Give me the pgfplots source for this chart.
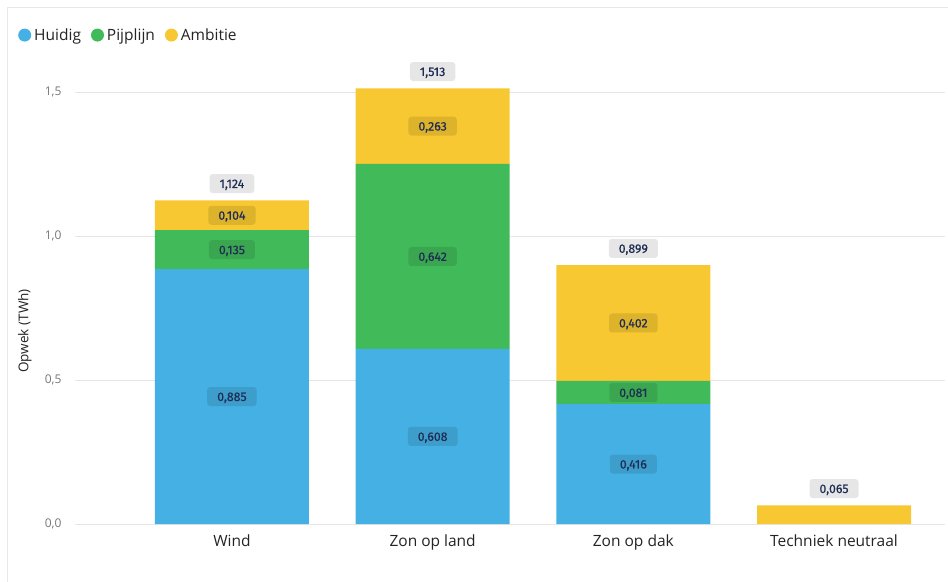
\documentclass[border=0pt]{standalone}
\usepackage{pgfplots}
\pgfplotsset{compat=1.18}
\usepackage{fontspec}
\setmainfont{Open Sans}
\newfontfamily\labelfont{Fira Sans}[FakeBold=0.6]

\definecolor{huidig}{HTML}{45B0E3}
\definecolor{pijplijn}{HTML}{41BA5A}
\definecolor{ambitie}{HTML}{F7C832}
\definecolor{labeltext}{HTML}{1F2D55}
\definecolor{gridgrey}{HTML}{E6E6E6}
\definecolor{tickgrey}{HTML}{777777}
\definecolor{textdark}{HTML}{252423}

\tikzset{
  labelbox/.style={
    text=labeltext, font=\labelfont\fontsize{12.3bp}{13bp}\selectfont,
    inner xsep=10bp, inner ysep=0pt, minimum height=19bp,
    text height=8.8bp, text depth=0pt, rounded corners=3bp},
}
% stacked labels sit in the middle of their segment; too thin ones are hidden
\pgfplotsset{
  seglabel/.style={
    point meta=explicit,
    nodes near coords={\pgfmathprintnumber[fixed,fixed zerofill,precision=3,use comma]{\pgfplotspointmeta}},
    every node near coord/.style={
      /utils/exec={%
        \pgfkeys{/pgf/fpu=true,/pgf/fpu/output format=fixed}%
        \pgfmathsetmacro\segop{\pgfplotspointmeta>0.07 ? 1 : 0}%
        \pgfmathsetmacro\segfop{\pgfplotspointmeta>0.07 ? 0.1 : 0}%
        \pgfkeys{/pgf/fpu=false}},
      anchor=center,
      fill=black, fill opacity=\segfop, text opacity=\segop, labelbox},
  },
  commonaxis/.style={
    at={(0,0)}, anchor=south west,
    scale only axis, width=870bp, height=460.8bp,
    xmin=-0.782, xmax=3.553, ymin=0, ymax=1.6, clip=false,
    /pgf/number format/assume math mode=true,
  },
}

\begin{document}
\begin{tikzpicture}
\path[use as bounding box] (-75bp,-58bp) rectangle (873bp,524bp);
\draw[gray!18, line width=0.8bp] (-68bp,-58bp) -- (-68bp,517bp) -- (873bp,517bp);
\begin{axis}[
    commonaxis,
    ybar stacked, bar width=154bp,
    xtick={0,1,2,3},
    xticklabels={Wind,Zon op land,Zon op dak,Techniek neutraal},
    ytick={0,0.5,1,1.5},
    yticklabel={\pgfmathprintnumber[fixed,fixed zerofill,precision=1,use comma]{\tick}},
    ymajorgrids, grid style={gridgrey, line width=0.8bp},
    axis line style={draw=none}, tick style={draw=none},
    xticklabel style={font=\fontsize{15.5bp}{18bp}\selectfont, text=textdark, yshift=-7bp},
    yticklabel style={font=\fontsize{12bp}{14bp}\selectfont, text=tickgrey, xshift=-10bp},
    ylabel={Opwek (TWh)},
    ylabel style={at={(axis description cs:-0.0575,0.419)}, anchor=center,
      font=\fontsize{13.5bp}{16bp}\selectfont, text=textdark},
    legend columns=3,
    legend image code/.code={\fill[#1] (0bp,0bp) circle (6.5bp);},
    legend style={at={(axis description cs:-0.0655,1.061)}, anchor=west,
      draw=none, fill=none, inner xsep=0pt,
      font=\fontsize{15.5bp}{18bp}\selectfont, text=textdark,
      nodes={inner xsep=3bp},
      /tikz/every even column/.append style={column sep=7bp}},
]
\addplot[fill=huidig, draw=none, seglabel] coordinates
  {(0,0.885) [0.885] (1,0.608) [0.608] (2,0.416) [0.416] (3,0) [0]};
\addplot[fill=pijplijn, draw=none, seglabel] coordinates
  {(0,0.135) [0.135] (1,0.642) [0.642] (2,0.081) [0.081] (3,0) [0]};
\addplot[fill=ambitie, draw=none, seglabel] coordinates
  {(0,0.104) [0.104] (1,0.263) [0.263] (2,0.402) [0.402] (3,0.065) [0.065]};
\legend{Huidig,Pijplijn,Ambitie}
\end{axis}
% totals above the bars
\begin{axis}[commonaxis, hide axis]
\addplot[draw=none, mark=none,
  nodes near coords={\pgfmathprintnumber[fixed,fixed zerofill,precision=3,use comma]{\pgfplotspointmeta}},
  every node near coord/.style={anchor=south, yshift=7bp, fill=gridgrey, labelbox}]
  coordinates {(0,1.124) (1,1.513) (2,0.899) (3,0.065)};
\end{axis}
\end{tikzpicture}
\end{document}
